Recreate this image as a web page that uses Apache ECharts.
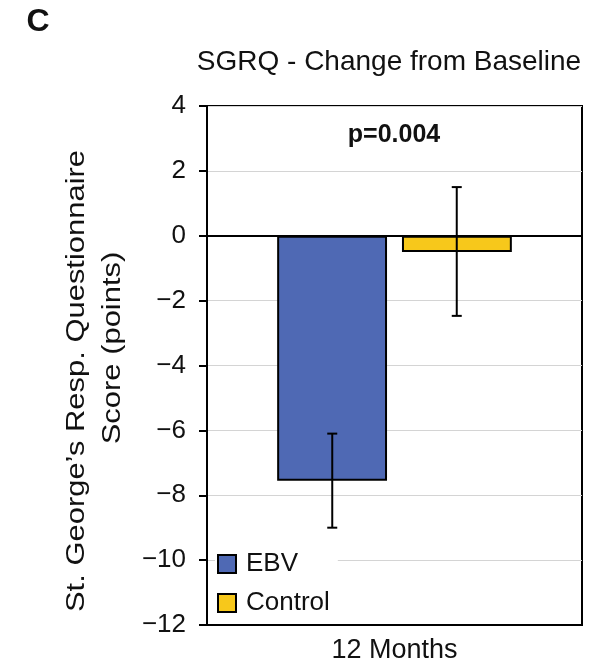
<!DOCTYPE html>
<html><head><meta charset="utf-8">
<script src="https://cdn.jsdelivr.net/npm/echarts@6/dist/echarts.min.js"></script>
<style>html,body{margin:0;padding:0;background:#fff}#c{width:599px;height:668px}</style>
</head><body><div id="c"></div>
<script>
const categories = ['12 Months'];
const seriesNames = ['EBV', 'Control'];
const ebvValues = [-7.55];
const controlValues = [-0.5];
const ebvErrLow = [-9.0];
const ebvErrHigh = [-6.1];
const controlErrLow = [-2.47];
const controlErrHigh = [1.5];
const yTicks = [4, 2, 0, -2, -4, -6, -8, -10, -12];
const pText = 'p=0.004';
const panelLabel = 'C';
const chartTitle = 'SGRQ - Change from Baseline';
const yNameLines = ['St. George\u2019s Resp. Questionnaire', 'Score (points)'];

const FONT = 'Liberation Sans, Arial, Helvetica, sans-serif';
const chart = echarts.init(document.getElementById('c'), null, {renderer: 'canvas'});

function errSeries(lo, hi, idx) {
  return {
    type: 'custom', z: 10,
    data: lo.map((v, i) => [i, v, hi[i]]),
    renderItem: function (params, api) {
      const c = api.value(0);
      const pLo = api.coord([c, api.value(1)]);
      const pHi = api.coord([c, api.value(2)]);
      const bw = api.size([1, 0])[0];
      const x = pLo[0] + (idx === 0 ? -1 : 1) * bw * 0.166;
      const cap = 5;
      const st = {stroke: '#000', lineWidth: 2};
      return {type: 'group', children: [
        {type: 'line', shape: {x1: x, y1: pLo[1], x2: x, y2: pHi[1]}, style: st},
        {type: 'line', shape: {x1: x - cap, y1: pLo[1], x2: x + cap, y2: pLo[1]}, style: st},
        {type: 'line', shape: {x1: x - cap, y1: pHi[1], x2: x + cap, y2: pHi[1]}, style: st}
      ]};
    }
  };
}

function txt(text, x, y, size, weight, extra) {
  return Object.assign({
    type: 'text', x: x, y: y, z: 100,
    style: {text: text, fontSize: size, fontWeight: weight, fill: '#111', fontFamily: FONT,
      textAlign: 'center', textVerticalAlign: 'middle'}
  }, extra || {});
}

chart.setOption({
  animation: false,
  textStyle: {fontFamily: FONT},
  grid: {left: 207, right: 17, top: 106, bottom: 43, show: true, borderColor: '#000', borderWidth: 2, backgroundColor: 'transparent'},
  legend: {
    orient: 'vertical', left: 215, top: 549, itemWidth: 18, itemHeight: 18, itemGap: 13,
    icon: 'rect', backgroundColor: '#fff', padding: [2, 8, 2, 2],
    textStyle: {fontSize: 26, color: '#111', fontFamily: FONT, padding: [0, 0, 0, 5]},
    data: seriesNames
  },
  xAxis: {
    type: 'category', data: categories,
    axisLine: {show: true, onZero: false, lineStyle: {color: '#000', width: 2}},
    axisTick: {show: false},
    axisLabel: {fontSize: 27, color: '#111', margin: 12, fontFamily: FONT}
  },
  yAxis: {
    type: 'value', min: yTicks[yTicks.length - 1], max: yTicks[0], interval: 2,
    axisLine: {show: true, lineStyle: {color: '#000', width: 2}},
    axisTick: {show: true, inside: false, length: 8, lineStyle: {color: '#000', width: 2}},
    axisLabel: {fontSize: 26, color: '#111', margin: 21, fontFamily: FONT,
      formatter: v => (v < 0 ? '\u2212' + Math.abs(v) : String(v))},
    splitLine: {show: true, lineStyle: {color: '#d4d4d4', width: 1}}
  },
  graphic: [
    txt(panelLabel, 38, 22, 32, 'bold'),
    txt(chartTitle, 389, 62, 28, 'normal'),
    txt(pText, 394, 135, 25, 'bold'),
    txt(yNameLines[0], 77, 381, 26, 'normal', {rotation: Math.PI / 2, scaleX: 1.19}),
    txt(yNameLines[1], 113, 348, 26, 'normal', {rotation: Math.PI / 2, scaleX: 1.19})
  ],
  series: [
    {name: 'EBV', type: 'bar', data: ebvValues, barWidth: '29.3%', barGap: '13.6%',
      itemStyle: {color: '#4f69b4', borderColor: '#000', borderWidth: 2},
      markLine: {silent: true, symbol: 'none', label: {show: false}, lineStyle: {color: '#000', width: 2, type: 'solid'}, data: [{yAxis: 0}]}},
    {name: 'Control', type: 'bar', data: controlValues, barWidth: '29.3%',
      itemStyle: {color: '#f7c81b', borderColor: '#000', borderWidth: 2}},
    errSeries(ebvErrLow, ebvErrHigh, 0),
    errSeries(controlErrLow, controlErrHigh, 1)
  ]
});
</script></body></html>
